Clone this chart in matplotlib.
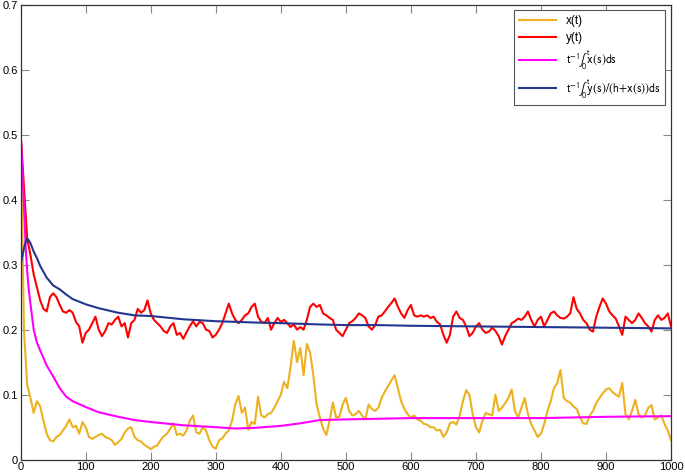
import numpy as np
import matplotlib
matplotlib.use("Agg")
import matplotlib.pyplot as plt

plt.rcParams["font.family"] = ["Liberation Sans", "DejaVu Sans"]
plt.rcParams["mathtext.fontset"] = "stixsans"

# ------------------------------------------------------------
# data read off the reference (noisy paths sampled every 5 time units)
# ------------------------------------------------------------
t = np.arange(0, 1001, 5)

x_t = [
    0.52, 0.20, 0.115, 0.095, 0.072, 0.09, 0.082, 0.06, 0.04, 0.03,
    0.028, 0.035, 0.038, 0.045, 0.052, 0.062, 0.05, 0.052, 0.04, 0.058,
    0.05, 0.035, 0.032, 0.035, 0.038, 0.04, 0.035, 0.033, 0.03, 0.023,
    0.027, 0.032, 0.042, 0.048, 0.05, 0.035, 0.03, 0.028, 0.023, 0.02,
    0.016, 0.02, 0.022, 0.03, 0.036, 0.04, 0.048, 0.056, 0.038, 0.04,
    0.037, 0.045, 0.06, 0.068, 0.042, 0.04, 0.05, 0.045, 0.03, 0.02,
    0.017, 0.03, 0.033, 0.04, 0.045, 0.06, 0.085, 0.098, 0.072, 0.08,
    0.046, 0.058, 0.055, 0.097, 0.068, 0.065, 0.07, 0.072, 0.08, 0.09,
    0.1, 0.12, 0.11, 0.143, 0.183, 0.15, 0.172, 0.13, 0.178, 0.165,
    0.13, 0.085, 0.065, 0.048, 0.038, 0.06, 0.088, 0.065, 0.066, 0.085,
    0.095, 0.075, 0.068, 0.07, 0.075, 0.068, 0.062, 0.085, 0.078, 0.075,
    0.08, 0.095, 0.105, 0.113, 0.122, 0.13, 0.11, 0.09, 0.078, 0.07,
    0.065, 0.068, 0.062, 0.06, 0.055, 0.054, 0.05, 0.05, 0.045, 0.046,
    0.035, 0.042, 0.056, 0.058, 0.054, 0.068, 0.09, 0.107, 0.1, 0.07,
    0.05, 0.042, 0.06, 0.072, 0.07, 0.068, 0.1, 0.075, 0.08, 0.087,
    0.095, 0.108, 0.075, 0.065, 0.08, 0.095, 0.07, 0.055, 0.045, 0.035,
    0.04, 0.055, 0.075, 0.09, 0.11, 0.118, 0.138, 0.095, 0.09, 0.088,
    0.082, 0.078, 0.065, 0.056, 0.055, 0.068, 0.075, 0.087, 0.095, 0.102,
    0.108, 0.11, 0.104, 0.1, 0.097, 0.118, 0.07, 0.062, 0.075, 0.092,
    0.07, 0.065, 0.068, 0.08, 0.084, 0.062, 0.065, 0.068, 0.055, 0.045,
    0.03,
]

y_t = [
    0.50, 0.42, 0.34, 0.315, 0.285, 0.265, 0.245, 0.232, 0.228, 0.25,
    0.256, 0.25, 0.238, 0.228, 0.226, 0.23, 0.226, 0.212, 0.205, 0.18,
    0.195, 0.2, 0.21, 0.22, 0.2, 0.19, 0.198, 0.21, 0.208, 0.215,
    0.22, 0.205, 0.21, 0.188, 0.21, 0.215, 0.232, 0.226, 0.23, 0.245,
    0.225, 0.215, 0.21, 0.205, 0.198, 0.195, 0.205, 0.21, 0.192, 0.195,
    0.186, 0.196, 0.205, 0.213, 0.205, 0.212, 0.21, 0.2, 0.198, 0.188,
    0.192, 0.2, 0.21, 0.225, 0.24, 0.225, 0.215, 0.21, 0.215, 0.222,
    0.225, 0.235, 0.24, 0.22, 0.212, 0.21, 0.218, 0.2, 0.21, 0.218,
    0.212, 0.215, 0.21, 0.204, 0.208, 0.2, 0.204, 0.2, 0.215, 0.235,
    0.24, 0.235, 0.238, 0.225, 0.222, 0.218, 0.215, 0.2, 0.195, 0.19,
    0.2, 0.21, 0.213, 0.218, 0.225, 0.222, 0.218, 0.205, 0.2, 0.207,
    0.22, 0.222, 0.228, 0.235, 0.241, 0.248, 0.235, 0.225, 0.218, 0.23,
    0.238, 0.222, 0.22, 0.222, 0.22, 0.222, 0.218, 0.22, 0.212, 0.208,
    0.192, 0.18, 0.192, 0.22, 0.228, 0.218, 0.215, 0.205, 0.19, 0.195,
    0.205, 0.21, 0.2, 0.195, 0.197, 0.203, 0.198, 0.19, 0.177, 0.19,
    0.2, 0.21, 0.213, 0.217, 0.215, 0.22, 0.228, 0.215, 0.205, 0.215,
    0.22, 0.205, 0.215, 0.225, 0.228, 0.222, 0.218, 0.217, 0.22, 0.225,
    0.25, 0.232, 0.225, 0.215, 0.21, 0.2, 0.197, 0.22, 0.235, 0.248,
    0.24, 0.228, 0.222, 0.217, 0.205, 0.192, 0.22, 0.215, 0.21, 0.215,
    0.225, 0.218, 0.21, 0.205, 0.197, 0.215, 0.222, 0.215, 0.218, 0.225,
    0.205,
]

# running time averages (smooth curves)
t_avg = [0, 2, 5, 8, 10, 12, 15, 20, 25, 30, 40, 50, 60, 70, 80, 100, 120,
         150, 175, 200, 250, 300, 330, 360, 400, 430, 460, 500, 550, 600,
         700, 800, 900, 1000]
x_avg = [0.50, 0.46, 0.39, 0.32, 0.29, 0.265, 0.24, 0.2, 0.18, 0.168, 0.145,
         0.128, 0.11, 0.097, 0.09, 0.081, 0.073, 0.066, 0.061, 0.058, 0.053,
         0.05, 0.048, 0.049, 0.052, 0.056, 0.061, 0.062, 0.063, 0.064,
         0.064, 0.064, 0.066, 0.067]
y_ratio_avg = [0.30, 0.31, 0.325, 0.336, 0.34, 0.338, 0.333, 0.32, 0.31,
               0.298, 0.28, 0.268, 0.262, 0.254, 0.247, 0.239, 0.233, 0.226,
               0.222, 0.221, 0.216, 0.213, 0.212, 0.211, 0.21, 0.209, 0.208,
               0.207, 0.207, 0.206, 0.205, 0.204, 0.203, 0.202]

labels = [
    "x(t)",
    "y(t)",
    r"$\mathrm{t^{-1}\!\int_0^t\! x(s)ds}$",
    r"$\mathrm{t^{-1}\!\int_0^t\! y(s)/(h\!+\!x(s))ds}$",
]
colors = ["#EDB120", "#FF0000", "#FF00FF", "#22368F"]

# ------------------------------------------------------------
# plot
# ------------------------------------------------------------
fig = plt.figure(figsize=(6.85, 4.76), dpi=100)
ax = fig.add_axes([0.0302, 0.0342, 0.9494, 0.9563])

ax.plot(t, x_t, color=colors[0], linewidth=1.5, label=labels[0])
ax.plot(t, y_t, color=colors[1], linewidth=1.5, label=labels[1])
ax.plot(t_avg, x_avg, color=colors[2], linewidth=1.5, label=labels[2])
ax.plot(t_avg, y_ratio_avg, color=colors[3], linewidth=1.5, label=labels[3])

ax.set_xlim(0, 1000)
ax.set_ylim(0, 0.7)
ax.set_xticks(np.arange(0, 1001, 100))
ax.set_yticks(np.arange(0, 0.71, 0.1))
ax.set_yticklabels(["0", "0.1", "0.2", "0.3", "0.4", "0.5", "0.6", "0.7"])

ax.tick_params(direction="in", length=6, width=0.8, color="#888888",
               labelsize=8, top=True, right=True, pad=2)
for sp in ax.spines.values():
    sp.set_color("#333333")
    sp.set_linewidth(0.9)

leg = ax.legend(loc="upper right", fontsize=8.5, handlelength=3.2,
                fancybox=False, framealpha=1, edgecolor="#555555",
                borderaxespad=0.5, labelspacing=0.4, borderpad=0.4)
leg.get_frame().set_linewidth(0.8)

plt.savefig("out.png", dpi=100)
plt.close()
